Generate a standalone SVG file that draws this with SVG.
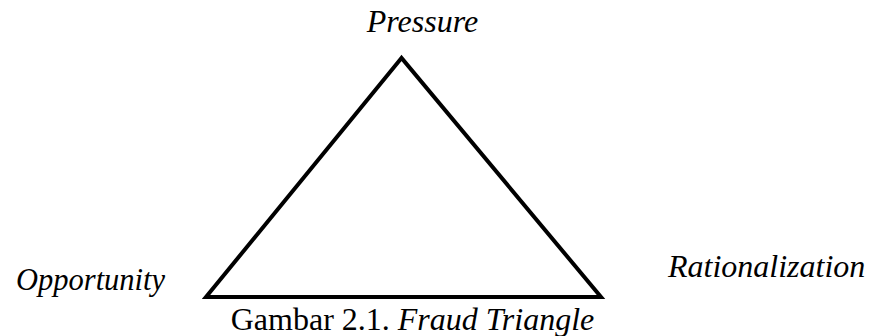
<svg xmlns="http://www.w3.org/2000/svg" width="869" height="336" viewBox="0 0 869 336">
<style>
text{font-family:'Liberation Serif','Times New Roman',serif;font-size:32px;fill:#000}
.i{font-style:italic}
.e{fill:none;stroke:#000;stroke-width:4;stroke-linejoin:miter}
</style>
<rect width="869" height="336" fill="#fff"/>
<g id="connectors">
<polygon class="e" points="401.5,58 206,297 601,297"/>
</g>
<g id="pressure"><text class="i" x="422.5" y="32" text-anchor="middle">Pressure</text></g>
<g id="opportunity"><text class="i" x="16" y="290" style="font-size:30.5px">Opportunity</text></g>
<g id="rationalization"><text class="i" x="668" y="277">Rationalization</text></g>
<g id="caption"><text x="412.5" y="330" text-anchor="middle">Gambar 2.1. <tspan class="i">Fraud Triangle</tspan></text></g>
</svg>
